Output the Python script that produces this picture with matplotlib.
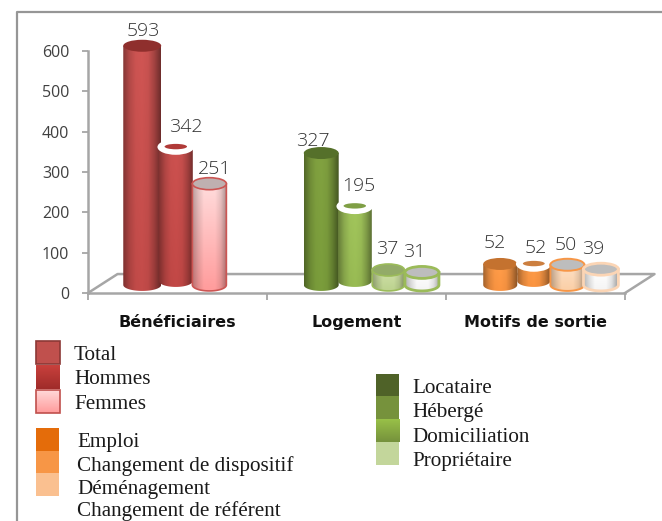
import numpy as np
import matplotlib
matplotlib.use('Agg')
import matplotlib.pyplot as plt
from matplotlib.colors import to_rgb
from matplotlib.patches import Ellipse, Polygon, Rectangle

# valeurs
categories = ['Bénéficiaires', 'Logement', 'Motifs de sortie']
beneficiaires = [593, 342, 251]
logement = [327, 195, 37, 31]
motifs = [52, 52, 50, 39]
yticks = [0, 100, 200, 300, 400, 500, 600]

legende_rouge = ['Total', 'Hommes', 'Femmes']
legende_orange = ['Emploi', 'Changement de dispositif', 'Déménagement', 'Changement de référent']
legende_verte = ['Locataire', 'Hébergé', 'Domiciliation', 'Propriétaire']

W, H = 662, 521
GREY = '#a6a6a6'
TXT = '#404040'
BASE = 20          # les cylindres sont posés sur le plancher, un peu au-dessus de 0
STEP = 0.1875
START = -0.197
SHADE = [0.66, 0.88, 1.0, 1.02, 0.98, 0.8, 0.55]
SHADE_CLAIR = [0.72, 0.88, 1.0, 1.0, 1.0, 0.9, 0.66]

# style de chaque cylindre : haut, bas, ellipse, bord, anneau blanc, épaisseur
st_total = dict(top='#cc5452', bot='#c04a48', cap='#8f2f2d', edge=None, ring=False, lw=0, shade=SHADE)
st_hommes = dict(top='#c9504e', bot='#bf4745', cap='#b03a38', edge=None, ring=True, lw=0, shade=SHADE)
st_femmes = dict(top='#ffdcdc', bot='#ff9c9c', cap='#bfb0b0', edge='#cc5553', ring=False, lw=1.2, shade=SHADE_CLAIR)
st_loc = dict(top='#7f9f3f', bot='#789a3a', cap='#55702a', edge=None, ring=False, lw=0, shade=SHADE)
st_heb = dict(top='#9fc25a', bot='#96b852', cap='#7f9f45', edge=None, ring=True, lw=0, shade=SHADE)
st_dom = dict(top='#cfe0a8', bot='#bcd28e', cap='#93ab68', edge='#9bbb59', ring=False, lw=1.2, shade=SHADE_CLAIR)
st_pro = dict(top='#ffffff', bot='#f4f4f4', cap='#bdbdbd', edge='#9bbb59', ring=False, lw=2.0, shade=SHADE_CLAIR)
st_emp = dict(top='#fb9a48', bot='#f79240', cap='#c4722f', edge=None, ring=False, lw=0, shade=SHADE)
st_chg = dict(top='#f99a48', bot='#f79240', cap='#cc7f40', edge=None, ring=True, lw=0, shade=SHADE)
st_dem = dict(top='#fde0c6', bot='#fbcfa6', cap='#bdbdbd', edge='#f79646', ring=False, lw=1.4, shade=SHADE_CLAIR)
st_ref = dict(top='#ffffff', bot='#f4f4f4', cap='#bdbdbd', edge='#fbd5b5', ring=False, lw=2.0, shade=SHADE_CLAIR)

styles = [[st_total, st_hommes, st_femmes],
          [st_loc, st_heb, st_dom, st_pro],
          [st_emp, st_chg, st_dem, st_ref]]
largeurs = [[0.212, 0.19, 0.19], [0.195, 0.19, 0.18, 0.19], [0.19, 0.185, 0.19, 0.195]]
# décalage des étiquettes en pixels par rapport au sommet du cylindre
decalages = [[(1, 6), (10, 11), (5, 6)],
             [(-8, 3), (4, 11), (-1, 12), (-8, 11)],
             [(-5, 12), (2, 7), (-2, 11), (-8, 11)]]

plt.rcParams['font.family'] = ['Open Sans', 'DejaVu Sans']
fig = plt.figure(figsize=(W / 100, H / 100), dpi=100)
ax = fig.add_axes([88 / W, 1 - 293 / H, (625 - 88) / W, (293 - 51) / H])
ax.patch.set_alpha(0)
PX = 600 / (293 - 51)   # unités par pixel


def cylindre(x, v, w, st):
    top = BASE + v
    eh = 12 * PX
    bas = BASE + 4 * PX if st['ring'] else BASE
    t = np.linspace(np.pi, 2 * np.pi, 40)
    xs = x + w / 2 * np.cos(t)
    ys = bas + eh / 2 * np.sin(t)
    pts = np.column_stack([np.r_[xs, x + w / 2, x - w / 2], np.r_[ys, top, top]])
    body = Polygon(pts, closed=True, fc='none', ec='none', zorder=5, clip_on=False)
    ax.add_patch(body)

    shade = np.interp(np.linspace(0, 1, 40), np.linspace(0, 1, len(st['shade'])), st['shade'])
    c0, c1 = np.array(to_rgb(st['top'])), np.array(to_rgb(st['bot']))
    grad = np.linspace(0, 1, 30)[:, None, None] * (c1 - c0) + c0
    img = np.clip(grad * shade[None, :, None], 0, 1)
    im = ax.imshow(img, extent=(x - w / 2, x + w / 2, bas - eh / 2, top), aspect='auto',
                   origin='upper', zorder=5, interpolation='bilinear')
    im.set_clip_box(fig.bbox)
    im.set_clip_path(body)
    if st['edge']:
        ax.add_patch(Polygon(pts, closed=True, fc='none', ec=st['edge'], lw=st['lw'], zorder=5, clip_on=False))

    if st['ring']:
        ax.add_patch(Ellipse((x, top), w * 1.08, eh * 1.3, fc='white', ec='none', zorder=5, clip_on=False))
        ax.add_patch(Ellipse((x, top + 1), w * 0.66, eh * 0.45, fc=st['cap'], ec='none', zorder=5, clip_on=False))
    else:
        ax.add_patch(Ellipse((x, top), w, eh, fc=st['cap'], ec=st['edge'] or st['cap'],
                             lw=st['lw'], zorder=5, clip_on=False))


series = [beneficiaires, logement, motifs]
for g, vals in enumerate(series):
    for i, v in enumerate(vals):
        x = g + START + i * STEP
        cylindre(x, v, largeurs[g][i], styles[g][i])
        ax.annotate(str(v), xy=(x, BASE + v), xytext=decalages[g][i], textcoords='offset pixels',
                    ha='center', va='bottom', fontsize=14, fontweight='light', color='#333333', zorder=7,
                    annotation_clip=False)

# plancher en perspective
dx, dy = 0.165, 47
ax.plot([-0.5, -0.5 + dx, 2.5 + dx, 2.5], [0, dy, dy, 0], color=GREY, lw=1.8, clip_on=False, zorder=1)

ax.set_xlim(-0.5, 2.5)
ax.set_ylim(0, 600)
ax.set_yticks(yticks)
ax.set_xticks([-0.5, 0.5, 1.5, 2.5])
ax.set_xticklabels([])
ax.set_xticks([0, 1, 2], minor=True)
ax.set_xticklabels(categories, minor=True, fontsize=11.5, fontweight='bold', color='#111111',
                   family=['DejaVu Sans'])
ax.tick_params(axis='x', which='minor', length=0, pad=15.5)
ax.tick_params(axis='x', which='major', length=5, width=1.3, color=GREY)
ax.tick_params(axis='y', length=4.5, width=1.3, color=GREY, labelsize=11.5, labelcolor=TXT, pad=9)
for s in ['top', 'right']:
    ax.spines[s].set_visible(False)
for s in ['left', 'bottom']:
    ax.spines[s].set_color(GREY)
    ax.spines[s].set_linewidth(1.8)

# cadre et légendes en coordonnées pixel
lg = fig.add_axes([0, 0, 1, 1], zorder=10)
lg.patch.set_alpha(0)
lg.axis('off')
lg.plot([16.5, 16.5, W], [H, 11.5, 11.5], color='#969696', lw=1.6)


def degrade(x0, y0, x1, y1, c0, c1):
    g = np.linspace(0, 1, 20)[:, None, None] * (np.array(to_rgb(c1)) - np.array(to_rgb(c0))) + np.array(to_rgb(c0))
    lg.imshow(g, extent=(x0, x1, y1, y0), aspect='auto', origin='upper', interpolation='bilinear')


# rouge
lg.add_patch(Rectangle((36, 341), 24, 23, fc='#c0504d', ec='#8c3836', lw=1.2))
degrade(36, 365, 60, 389, '#c8403c', '#a02c2a')
degrade(36, 390, 60, 413, '#ffd8d8', '#ff9c9c')
lg.add_patch(Rectangle((36, 390), 24, 23, fc='none', ec='#c0504d', lw=1.2))
# orange
for y0, c in zip([428, 451, 473], ['#e46c0a', '#f79646', '#fac090']):
    lg.add_patch(Rectangle((36, y0), 23, 23, fc=c, ec='none'))
# vert
for y0, c in zip([374, 396, 442], ['#4f6228', '#76923c', '#c3d69b']):
    lg.add_patch(Rectangle((376, y0), 23, 23, fc=c, ec='none'))
degrade(376, 419, 400, 442, '#98c048', '#76923c')

serif = dict(family=['Liberation Serif', 'DejaVu Serif'], fontsize=15.2, color='#1a1a1a', va='baseline', ha='left')
for t, y in zip(legende_rouge, [360, 384.5, 409]):
    lg.text(74, y, t, **serif)
for t, y in zip(legende_orange, [447, 471, 494, 516]):
    lg.text(77, y, t, **serif)
for t, y in zip(legende_verte, [393, 417, 442, 466]):
    lg.text(412, y, t, **serif)

lg.set_xlim(0, W)
lg.set_ylim(H, 0)

fig.savefig('out.png', dpi=100)
